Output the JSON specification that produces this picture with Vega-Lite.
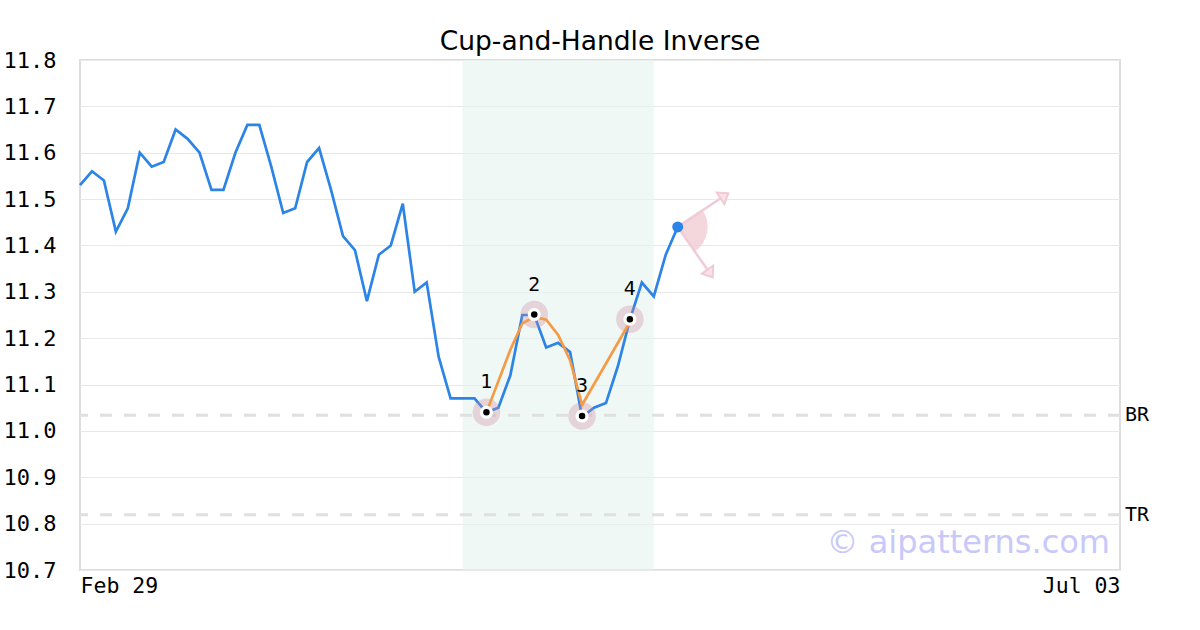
{
  "$schema": "https://vega.github.io/schema/vega-lite/v6.json",
  "width": 1040,
  "height": 510,
  "autosize": "none",
  "padding": {"left": 80, "top": 60, "right": 80, "bottom": 60},
  "background": "white",
  "title": {"text": "Cup-and-Handle Inverse", "font": "DejaVu Sans", "fontSize": 26.5, "fontWeight": "normal", "color": "black", "offset": 10, "frame": "group", "dy": 16},
  "config": {
    "view": {"stroke": "#dddddd", "strokeWidth": 2},
    "axis": {"labelFont": "DejaVu Sans Mono", "labelFontSize": 22, "labelColor": "black", "domain": false, "ticks": false, "title": null}
  },
  "datasets": {
    "price": [
      {"i": 0, "v": 11.53}, {"i": 1, "v": 11.56}, {"i": 2, "v": 11.54}, {"i": 3, "v": 11.43},
      {"i": 4, "v": 11.48}, {"i": 5, "v": 11.60}, {"i": 6, "v": 11.57}, {"i": 7, "v": 11.58},
      {"i": 8, "v": 11.65}, {"i": 9, "v": 11.63}, {"i": 10, "v": 11.60}, {"i": 11, "v": 11.52},
      {"i": 12, "v": 11.52}, {"i": 13, "v": 11.60}, {"i": 14, "v": 11.66}, {"i": 15, "v": 11.66},
      {"i": 16, "v": 11.57}, {"i": 17, "v": 11.47}, {"i": 18, "v": 11.48}, {"i": 19, "v": 11.58},
      {"i": 20, "v": 11.61}, {"i": 21, "v": 11.52}, {"i": 22, "v": 11.42}, {"i": 23, "v": 11.39},
      {"i": 24, "v": 11.28}, {"i": 25, "v": 11.38}, {"i": 26, "v": 11.40}, {"i": 27, "v": 11.49},
      {"i": 28, "v": 11.30}, {"i": 29, "v": 11.32}, {"i": 30, "v": 11.16}, {"i": 31, "v": 11.07},
      {"i": 32, "v": 11.07}, {"i": 33, "v": 11.07}, {"i": 34, "v": 11.04}, {"i": 35, "v": 11.05},
      {"i": 36, "v": 11.12}, {"i": 37, "v": 11.25}, {"i": 38, "v": 11.25}, {"i": 39, "v": 11.18},
      {"i": 40, "v": 11.19}, {"i": 41, "v": 11.17}, {"i": 42, "v": 11.03}, {"i": 43, "v": 11.05},
      {"i": 44, "v": 11.06}, {"i": 45, "v": 11.14}, {"i": 46, "v": 11.24}, {"i": 47, "v": 11.32},
      {"i": 48, "v": 11.29}, {"i": 49, "v": 11.38}, {"i": 50, "v": 11.44}
    ],
    "pattern": [
      {"i": 34, "v": 11.04, "label": "1"},
      {"i": 38, "v": 11.251, "label": "2"},
      {"i": 42, "v": 11.032, "label": "3"},
      {"i": 46, "v": 11.241, "label": "4"}
    ],
    "smooth": [
      {"i": 34, "v": 11.04}, {"i": 36, "v": 11.175}, {"i": 37, "v": 11.232}, {"i": 38, "v": 11.246},
      {"i": 39, "v": 11.24}, {"i": 40, "v": 11.207}, {"i": 41, "v": 11.152}, {"i": 42, "v": 11.056},
      {"i": 46, "v": 11.235}
    ],
    "levels": [{"name": "BR", "v": 11.034}, {"name": "TR", "v": 10.819}],
    "band": [{"start": 32, "end": 48}],
    "last": [{"i": 50, "v": 11.44}],
    "arrows": [
      {"dir": "up", "i": 50, "v": 11.44, "i2": 54.23, "v2": 11.5125},
      {"dir": "down", "i": 50, "v": 11.44, "i2": 52.93, "v2": 11.3313}
    ]
  },
  "encoding": {
    "x": {"field": "i", "type": "quantitative", "scale": {"domain": [0, 87], "nice": false, "zero": false},
      "axis": {"values": [0, 87], "labelFlush": true, "grid": false, "labelPadding": 5, "labelFontSize": 21.5, "labelExpr": "datum.value == 0 ? 'Feb 29' : 'Jul 03'"}},
    "y": {"field": "v", "type": "quantitative", "scale": {"domain": [10.7, 11.8], "nice": false, "zero": false},
      "axis": {"values": [10.7, 10.8, 10.9, 11.0, 11.1, 11.2, 11.3, 11.4, 11.5, 11.6, 11.7, 11.8], "format": ".1f", "grid": true, "gridColor": "#e8e8e8", "gridWidth": 1, "labelPadding": 24}}
  },
  "layer": [
    {
      "data": {"name": "band"},
      "mark": {"type": "rect", "fill": "#e6f3ee", "opacity": 0.6},
      "encoding": {"x": {"field": "start", "type": "quantitative"}, "x2": {"field": "end"}, "y": null}
    },
    {
      "data": {"name": "levels"},
      "mark": {"type": "rule", "stroke": "#e0e0e0", "strokeWidth": 3, "strokeDash": [12, 12]},
      "encoding": {"x": null}
    },
    {
      "data": {"name": "price"},
      "mark": {"type": "line", "stroke": "#2b84e6", "strokeWidth": 2.7},
      "encoding": {}
    },
    {
      "data": {"name": "pattern"},
      "mark": {"type": "point", "filled": true, "shape": "circle", "fill": "#c98a9f", "opacity": 0.32, "size": 760, "strokeWidth": 0},
      "encoding": {}
    },
    {
      "data": {"name": "smooth"},
      "mark": {"type": "line", "stroke": "#f59b45", "strokeWidth": 2.7},
      "encoding": {}
    },
    {
      "data": {"name": "pattern"},
      "mark": {"type": "point", "filled": true, "shape": "circle", "fill": "white", "opacity": 1, "size": 170, "strokeWidth": 0},
      "encoding": {}
    },
    {
      "data": {"name": "pattern"},
      "mark": {"type": "point", "filled": true, "shape": "circle", "fill": "black", "opacity": 1, "size": 42, "strokeWidth": 0},
      "encoding": {}
    },
    {
      "data": {"name": "pattern"},
      "mark": {"type": "text", "font": "DejaVu Sans", "fontSize": 19, "color": "black", "baseline": "middle", "dy": -30},
      "encoding": {"text": {"field": "label"}}
    },
    {
      "data": {"name": "last"},
      "mark": {"type": "point", "filled": true, "fill": "#f0c8d2", "opacity": 0.75, "size": 3600, "strokeWidth": 0,
        "shape": "M0,0L0.8368,-0.5476L0.926,-0.3774L0.9811,-0.1934L1,-0.0022L0.982,0.1891L0.9277,0.3734L0.8391,0.5439L0.7196,0.6944L0.5736,0.8192Z"},
      "encoding": {}
    },
    {
      "data": {"name": "arrows"},
      "mark": {"type": "rule", "stroke": "#f0cbd5", "strokeWidth": 2.5},
      "encoding": {"x2": {"field": "i2"}, "y2": {"field": "v2"}}
    },
    {
      "data": {"name": "arrows"},
      "transform": [{"filter": "datum.dir == 'up'"}],
      "mark": {"type": "point", "filled": true, "fill": "#f8e2e8", "stroke": "#f0cbd5", "strokeWidth": 2, "opacity": 1, "size": 340, "angle": -33.2,
        "shape": "M0,0L-1,-0.75L-1,0.75Z"},
      "encoding": {"x": {"field": "i2", "type": "quantitative"}, "y": {"field": "v2", "type": "quantitative"}}
    },
    {
      "data": {"name": "arrows"},
      "transform": [{"filter": "datum.dir == 'down'"}],
      "mark": {"type": "point", "filled": true, "fill": "#f8e2e8", "stroke": "#f0cbd5", "strokeWidth": 2, "opacity": 1, "size": 340, "angle": 55,
        "shape": "M0,0L-1,-0.75L-1,0.75Z"},
      "encoding": {"x": {"field": "i2", "type": "quantitative"}, "y": {"field": "v2", "type": "quantitative"}}
    },
    {
      "data": {"name": "last"},
      "mark": {"type": "point", "filled": true, "shape": "circle", "fill": "#2b84e6", "opacity": 1, "size": 120, "strokeWidth": 0},
      "encoding": {}
    },
    {
      "data": {"name": "levels"},
      "mark": {"type": "text", "font": "DejaVu Sans Mono", "fontSize": 20, "color": "black", "align": "left", "baseline": "middle", "x": {"expr": "width"}, "dx": 5},
      "encoding": {"x": null, "text": {"field": "name"}}
    },
    {
      "data": {"values": [{"t": "© aipatterns.com"}]},
      "mark": {"type": "text", "font": "DejaVu Sans", "fontSize": 32, "color": "#c8c8fa", "align": "right", "baseline": "alphabetic", "x": {"expr": "width - 10"}, "y": {"expr": "height - 17"}},
      "encoding": {"x": null, "y": null, "text": {"field": "t"}}
    }
  ]
}
